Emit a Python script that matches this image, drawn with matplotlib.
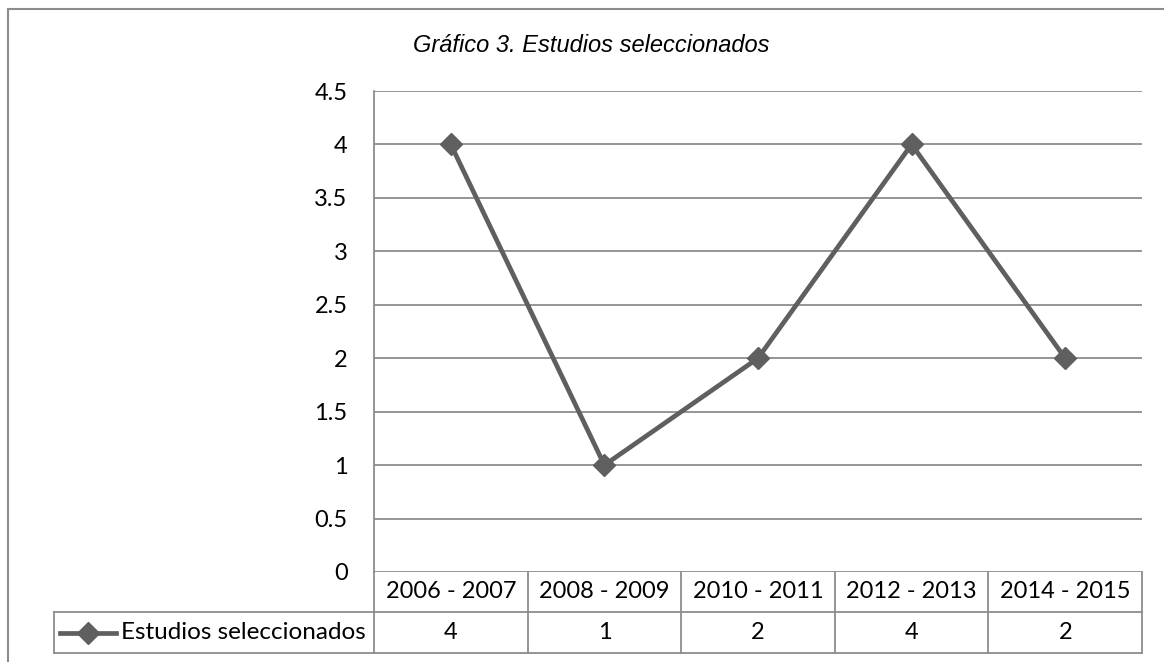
import matplotlib

matplotlib.use("Agg")
import matplotlib.pyplot as plt  # noqa: E402
from matplotlib.patches import Rectangle  # noqa: E402
from matplotlib.transforms import blended_transform_factory  # noqa: E402

periods = ["2006 - 2007", "2008 - 2009", "2010 - 2011", "2012 - 2013", "2014 - 2015"]
studies = [4, 1, 2, 4, 2]
series_name = "Estudios seleccionados"
title = "Gráfico 3. Estudios seleccionados"
y_ticks = [0, 0.5, 1, 1.5, 2, 2.5, 3, 3.5, 4, 4.5]

LINE = "#5f5f5f"
GRID = "#8c8c8c"
W, H = 1164, 662
FONT = "Lato"


def fx(px):
    return px / W


def fy(py):
    return 1 - py / H


fig = plt.figure(figsize=(W / 100, H / 100), dpi=100)
fig.patch.set_facecolor("white")

# outer chart border (runs past the right/bottom edge in the original)
fig.patches.append(Rectangle((fx(8), fy(700)), fx(1200), fy(9) - fy(700),
                             transform=fig.transFigure, fill=False,
                             edgecolor=GRID, linewidth=1.5))

ax = fig.add_axes([fx(374), fy(572), fx(1142) - fx(374), fy(91) - fy(572)])
x = list(range(len(periods)))
ax.plot(x, studies, color=LINE, linewidth=3.4, marker="D", markersize=11,
        markerfacecolor=LINE, markeredgecolor=LINE, zorder=3)

ax.set_xlim(-0.5, len(periods) - 0.5)
ax.set_ylim(0, 4.5)
ax.set_yticks(y_ticks)
ax.set_yticklabels([f"{v:g}" for v in y_ticks], fontsize=17, family=FONT)
ax.set_xticks([])
ax.tick_params(axis="y", length=0, pad=19)
ax.grid(True, axis="y", color=GRID, linewidth=1.3)
ax.set_axisbelow(True)
for side in ["top", "right", "bottom"]:
    ax.spines[side].set_visible(False)
ax.spines["left"].set_color(GRID)
ax.spines["left"].set_linewidth(1.3)

fig.text(fx(591), fy(52), title, ha="center", va="baseline", fontsize=17,
         style="italic", family="Liberation Sans")

# data table under the plot
tr = blended_transform_factory(ax.transData, ax.transAxes)
row1 = -40 / 481
row2 = -81 / 481
kw = dict(color=GRID, linewidth=1.3, clip_on=False, transform=tr)
ax.plot([-0.5, len(periods) - 0.5], [row1, row1], **kw)
ax.plot([-0.5, len(periods) - 0.5], [row2, row2], **kw)
for i in range(len(periods) + 1):
    ax.plot([i - 0.5, i - 0.5], [0, row2], **kw)
for i, (p, v) in enumerate(zip(periods, studies)):
    ax.text(i, row1 / 2, p, transform=tr, ha="center", va="center",
            fontsize=17, family=FONT)
    ax.text(i, (row1 + row2) / 2, str(v), transform=tr, ha="center",
            va="center", fontsize=17, family=FONT)

# legend cell
fkw = dict(color=GRID, linewidth=1.3, transform=fig.transFigure)
y_top, y_bot = fy(612), fy(653)
fig.add_artist(plt.Line2D([fx(54), fx(374)], [y_top, y_top], **fkw))
fig.add_artist(plt.Line2D([fx(54), fx(374)], [y_bot, y_bot], **fkw))
fig.add_artist(plt.Line2D([fx(54), fx(54)], [y_top, y_bot], **fkw))
ymid = (y_top + y_bot) / 2
fig.add_artist(plt.Line2D([fx(60), fx(116)], [ymid, ymid], color=LINE,
                          linewidth=3.4, transform=fig.transFigure))
fig.add_artist(plt.Line2D([fx(88)], [ymid], color=LINE, marker="D",
                          markersize=11, linestyle="none",
                          transform=fig.transFigure))
fig.text(fx(121), ymid, series_name, ha="left", va="center", fontsize=17.5,
         family=FONT)

fig.savefig("out.png", dpi=100, facecolor="white")
